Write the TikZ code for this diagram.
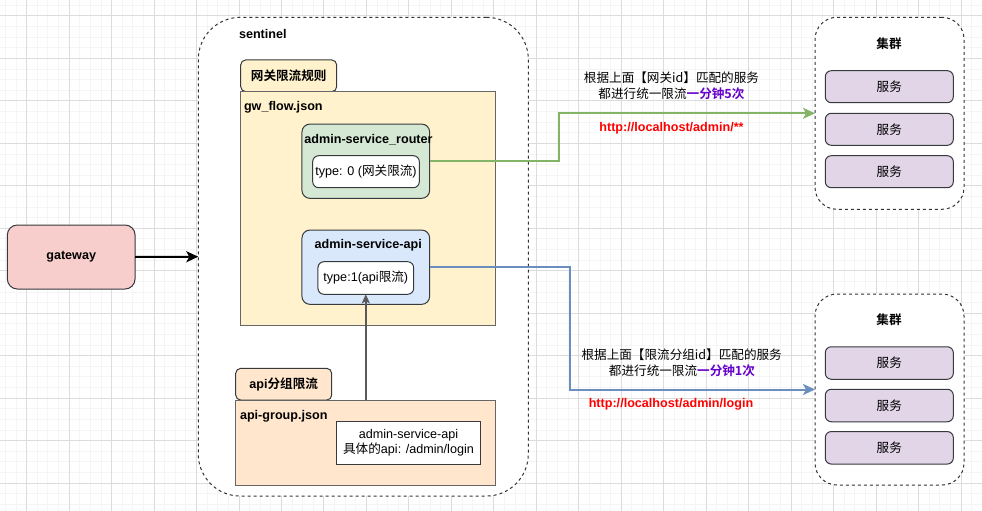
\documentclass[tikz,border=0pt]{standalone}
\usepackage{fontspec}
\setmainfont{Liberation Sans}
\newfontfamily\cjk{Noto Sans CJK SC}[BoldFont=Noto Sans CJK SC Bold]
\newcommand{\zh}[1]{{\cjk #1}}
\usetikzlibrary{arrows.meta}
\definecolor{gridminor}{RGB}{245,245,245}
\definecolor{gridmajor}{RGB}{220,220,220}
\definecolor{darkstroke}{RGB}{54,57,61}
\definecolor{graystroke}{RGB}{102,102,102}
\definecolor{redfill}{RGB}{248,206,204}
\definecolor{yellowfill}{RGB}{255,242,204}
\definecolor{greenfill}{RGB}{213,232,212}
\definecolor{bluefill}{RGB}{218,232,252}
\definecolor{orangefill}{RGB}{255,230,204}
\definecolor{purplefill}{RGB}{225,213,231}
\definecolor{greenline}{RGB}{130,179,102}
\definecolor{blueline}{RGB}{108,142,191}
\definecolor{purpletext}{RGB}{102,0,204}
\definecolor{redtext}{RGB}{255,0,0}
\begin{document}
\begin{tikzpicture}[x=1pt,y=-1pt,
  every node/.style={font=\fontsize{12.6}{15}\selectfont, inner sep=0pt, outer sep=0pt},
  shapebox/.style={draw=darkstroke, line width=1pt, rounded corners=8pt},
  bigrect/.style={draw=graystroke, line width=1pt},
  container/.style={draw=black!80, line width=1pt, dash pattern=on 3pt off 3pt},
  whitebox/.style={shapebox, fill=white, rounded corners=6pt},
  label/.style={font=\fontsize{12.6}{15}\selectfont\bfseries},
  conn/.style={line width=2pt, -{Stealth[length=12pt,width=11pt,inset=3pt]}}
]
\useasboundingbox (0,0) rectangle (982,511);
\fill[white] (0,0) rectangle (982,511);
% grid
\foreach \i in {0,...,91} {\draw[gridminor, line width=1pt] ({5.47+10.617*\i},0) -- ({5.47+10.617*\i},511);}
\foreach \i in {0,...,47} {\draw[gridminor, line width=1pt] (0,{5.38+10.617*\i}) -- (982,{5.38+10.617*\i});}
\foreach \i in {0,...,22} {\draw[gridmajor, line width=1pt] ({26.7+42.47*\i},0) -- ({26.7+42.47*\i},511);}
\foreach \i in {0,...,11} {\draw[gridmajor, line width=1pt] (0,{16+42.47*\i}) -- (982,{16+42.47*\i});}

% gateway
\node[shapebox, fill=redfill, minimum width=127.7pt, minimum height=64pt, rounded corners=10pt, font=\fontsize{12.6}{15}\selectfont\bfseries] (gw) at (71.2,257) {gateway};

% sentinel container
\node[container, fill=white, rounded corners=42pt, minimum width=330pt, minimum height=478.7pt] (sentinel) at (363.3,256.7) {};
\node[label, anchor=west] (sentlabel) at (239,34) {sentinel};

% gw_flow tab and rect
\node[shapebox, fill=yellowfill, rounded corners=5pt, minimum width=96pt, minimum height=31.7pt] (tab1) at (288.7,75.8) {\zh{\bfseries 网关限流规则}};
\node[bigrect, fill=yellowfill, minimum width=255.3pt, minimum height=234pt] (gwflow) at (368.3,208.7) {};
\node[label, anchor=west] (gwflowlabel) at (244,107.7) {gw\_flow.json};

% router
\node[shapebox, fill=greenfill, minimum width=127.7pt, minimum height=74.3pt] (router) at (365.8,161.2) {};
\node[label] (routerlabel) at (368.5,139.3) {admin-service\_router};
\node[whitebox, minimum width=106.6pt, minimum height=32pt] (type0) at (366,171.7) {type: 0 (\zh{网关限流})};

% api
\node[shapebox, fill=bluefill, minimum width=127.7pt, minimum height=74.3pt] (api) at (365.8,267.2) {};
\node[label] (apilabel) at (368.3,245.7) {admin-service-api};
\node[whitebox, minimum width=95.7pt, minimum height=32.6pt] (type1) at (365.8,278) {type:1(api\zh{限流})};

% api group tab and rect
\node[shapebox, fill=orangefill, rounded corners=5pt, minimum width=96pt, minimum height=31.7pt] (tab2) at (283.7,384.2) {\bfseries api\zh{\bfseries 分组限流}};
\node[bigrect, fill=orangefill, minimum width=260.3pt, minimum height=85pt] (apigroup) at (365.8,442.5) {};
\node[label, anchor=west] (apigrouplabel) at (240,416) {api-group.json};
\node[bigrect, draw=darkstroke, fill=white, minimum width=143.6pt, minimum height=43pt, align=center] (inner) at (408.5,442.8) {admin-service-api\\[-0.5pt]\zh{具体的}api: /admin/login};

% clusters
\node[container, fill=white, rounded corners=22pt, minimum width=149pt, minimum height=192pt] (c1) at (889.5,113.3) {};
\node[label] (c1label) at (889,43.3) {\zh{\bfseries 集群}};
\node[shapebox, fill=purplefill, minimum width=128pt, minimum height=32pt, rounded corners=6pt] (s11) at (889.3,86.7) {\zh{服务}};
\node[shapebox, fill=purplefill, minimum width=128pt, minimum height=32pt, rounded corners=6pt] (s12) at (889.3,129.3) {\zh{服务}};
\node[shapebox, fill=purplefill, minimum width=128pt, minimum height=32pt, rounded corners=6pt] (s13) at (889.3,171.7) {\zh{服务}};

\node[container, fill=white, rounded corners=22pt, minimum width=149pt, minimum height=191pt] (c2) at (889.5,389.5) {};
\node[label] (c2label) at (889,319.3) {\zh{\bfseries 集群}};
\node[shapebox, fill=purplefill, minimum width=128pt, minimum height=32.5pt, rounded corners=6pt] (s21) at (889.3,363) {\zh{服务}};
\node[shapebox, fill=purplefill, minimum width=128pt, minimum height=32.5pt, rounded corners=6pt] (s22) at (889.3,405.5) {\zh{服务}};
\node[shapebox, fill=purplefill, minimum width=128pt, minimum height=32.5pt, rounded corners=6pt] (s23) at (889.3,447.8) {\zh{服务}};

% connectors
\draw[conn, black] (gw.east) -- (sentinel.west);
\draw[line width=1.5pt, draw=black!65, -{Stealth[length=9pt,width=8pt,inset=2pt]}] (apigroup.north) -- (type1.south);
\draw[conn, greenline] (router.east) -- (559.3,161.2) |- (c1.west);
\draw[conn, blueline] (api.east) -- (570,267.2) |- (c2.west);

% labels on connectors
\node[align=center] (t1a) at (671.5,77.3) {\zh{根据上面【网关id】匹配的服务}};
\node[align=center] (t1b) at (671.5,93.3) {\zh{都进行统一限流}\textcolor{purpletext}{\zh{\bfseries 一分钟5次}}};
\node[label, text=redtext] (u1) at (671.5,128.3) {http://localhost/admin/**};

\node[align=center] (t2a) at (681.7,355) {\zh{根据上面【限流分组id】匹配的服务}};
\node[align=center] (t2b) at (682,370.7) {\zh{都进行统一限流}\textcolor{purpletext}{\zh{\bfseries 一分钟1次}}};
\node[label, text=redtext] (u2) at (671,404) {http://localhost/admin/login};
\end{tikzpicture}
\end{document}
